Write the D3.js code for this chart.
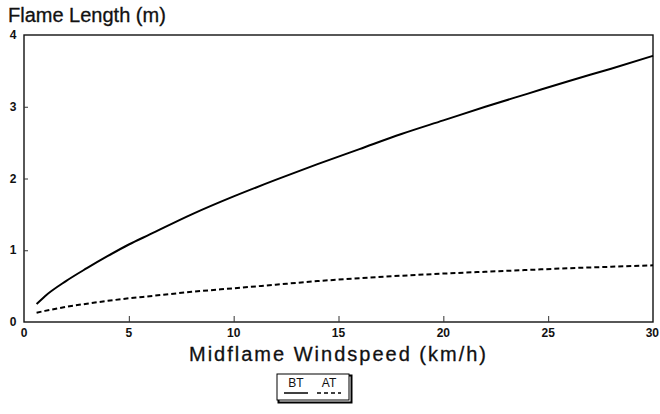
<!DOCTYPE html>
<html>
<head>
<meta charset="utf-8">
<script src="https://cdn.jsdelivr.net/npm/d3@7/dist/d3.min.js"></script>
<style>
  body { margin: 0; background: #fff; }
  svg { display: block; }
  text { font-family: "Liberation Sans", Arial, sans-serif; fill: #111; }
</style>
</head>
<body>
<div id="chart"></div>
<script>
// midflame windspeed (km/h)
const speeds = [0.6, 1, 2, 3, 4, 5, 6, 8, 10, 12, 14, 16, 18, 20, 22, 24, 26, 28, 30];
// flame length (m), before treatment
const bt = [0.25, 0.36, 0.57, 0.75, 0.92, 1.08, 1.22, 1.50, 1.75, 1.98, 2.20, 2.41, 2.62, 2.81, 3.00, 3.18, 3.36, 3.53, 3.71];
// flame length (m), after treatment
const at = [0.13, 0.155, 0.21, 0.255, 0.295, 0.33, 0.36, 0.42, 0.47, 0.52, 0.57, 0.61, 0.645, 0.675, 0.70, 0.725, 0.75, 0.77, 0.79];

const xTicks = [0, 5, 10, 15, 20, 25, 30];
const yTicks = [0, 1, 2, 3, 4];

const width = 660, height = 414;
const margin = {top: 35, right: 7, bottom: 92, left: 24};

const svg = d3.select("#chart").append("svg")
    .attr("width", width)
    .attr("height", height);

const x = d3.scaleLinear().domain([0, 30]).range([margin.left, width - margin.right]);
const y = d3.scaleLinear().domain([0, 4]).range([height - margin.bottom, margin.top]);

// frame
svg.append("rect")
    .attr("x", x(0))
    .attr("y", y(4))
    .attr("width", x(30) - x(0))
    .attr("height", y(0) - y(4))
    .attr("fill", "none")
    .attr("stroke", "#111")
    .attr("stroke-width", 1.4);

// ticks pointing inward
const xAxis = svg.append("g")
    .attr("transform", `translate(0,${y(0)})`)
    .call(d3.axisTop(x).tickValues(xTicks.slice(1, -1)).tickSize(6).tickFormat(""));
const yAxis = svg.append("g")
    .attr("transform", `translate(${x(0)},0)`)
    .call(d3.axisRight(y).tickValues(yTicks.slice(1, -1)).tickSize(4).tickFormat(""));
[xAxis, yAxis].forEach(g => {
    g.select(".domain").remove();
    g.selectAll("line").attr("stroke", "#333").attr("stroke-width", 1);
});

// tick labels
svg.selectAll(".xlab")
    .data(xTicks)
    .join("text")
    .attr("x", d => x(d))
    .attr("y", y(0) + 15)
    .attr("text-anchor", d => d === 30 ? "end" : "middle")
    .attr("dx", d => d === 30 ? 6 : 0)
    .style("font-size", "12px")
    .style("font-weight", "bold")
    .text(d => d);

svg.selectAll(".ylab")
    .data(yTicks)
    .join("text")
    .attr("x", 13)
    .attr("y", d => y(d) + 4)
    .attr("text-anchor", "middle")
    .style("font-size", "12px")
    .style("font-weight", "bold")
    .text(d => d);

// titles
svg.append("text")
    .attr("x", 8)
    .attr("y", 22)
    .style("font-size", "20px")
    .style("stroke", "#111")
    .style("stroke-width", 0.3)
    .text("Flame Length (m)");

svg.append("text")
    .attr("x", (x(0) + x(30)) / 2)
    .attr("y", 361)
    .attr("text-anchor", "middle")
    .style("font-size", "20px")
    .style("letter-spacing", "2px")
    .style("stroke", "#111")
    .style("stroke-width", 0.3)
    .text("Midflame Windspeed (km/h)");

// lines
const line = d3.line()
    .x((d, i) => x(speeds[i]))
    .y(d => y(d))
    .curve(d3.curveMonotoneX);

svg.append("path")
    .datum(bt)
    .attr("d", line)
    .attr("fill", "none")
    .attr("stroke", "#000")
    .attr("stroke-width", 2);

svg.append("path")
    .datum(at)
    .attr("d", line)
    .attr("fill", "none")
    .attr("stroke", "#000")
    .attr("stroke-width", 2)
    .attr("stroke-dasharray", "5,3");

// legend
const lg = svg.append("g").attr("transform", "translate(277,374)");
lg.append("rect")
    .attr("x", 1.5).attr("y", 1.5)
    .attr("width", 73).attr("height", 27)
    .attr("fill", "none").attr("stroke", "#000").attr("stroke-width", 2);
lg.append("rect")
    .attr("width", 72).attr("height", 26)
    .attr("fill", "#fff").attr("stroke", "#000").attr("stroke-width", 1);

const legendItems = [{name: "BT", dash: null}, {name: "AT", dash: "4,3"}];
legendItems.forEach((d, i) => {
    const cx = 19 + i * 33;
    lg.append("text")
        .attr("x", cx)
        .attr("y", 13)
        .attr("text-anchor", "middle")
        .style("font-size", "12px")
        .text(d.name);
    lg.append("line")
        .attr("x1", cx - 12).attr("x2", cx + 12)
        .attr("y1", 19).attr("y2", 19)
        .attr("stroke", "#000")
        .attr("stroke-width", 1.5)
        .attr("stroke-dasharray", d.dash);
});
</script>
</body>
</html>
